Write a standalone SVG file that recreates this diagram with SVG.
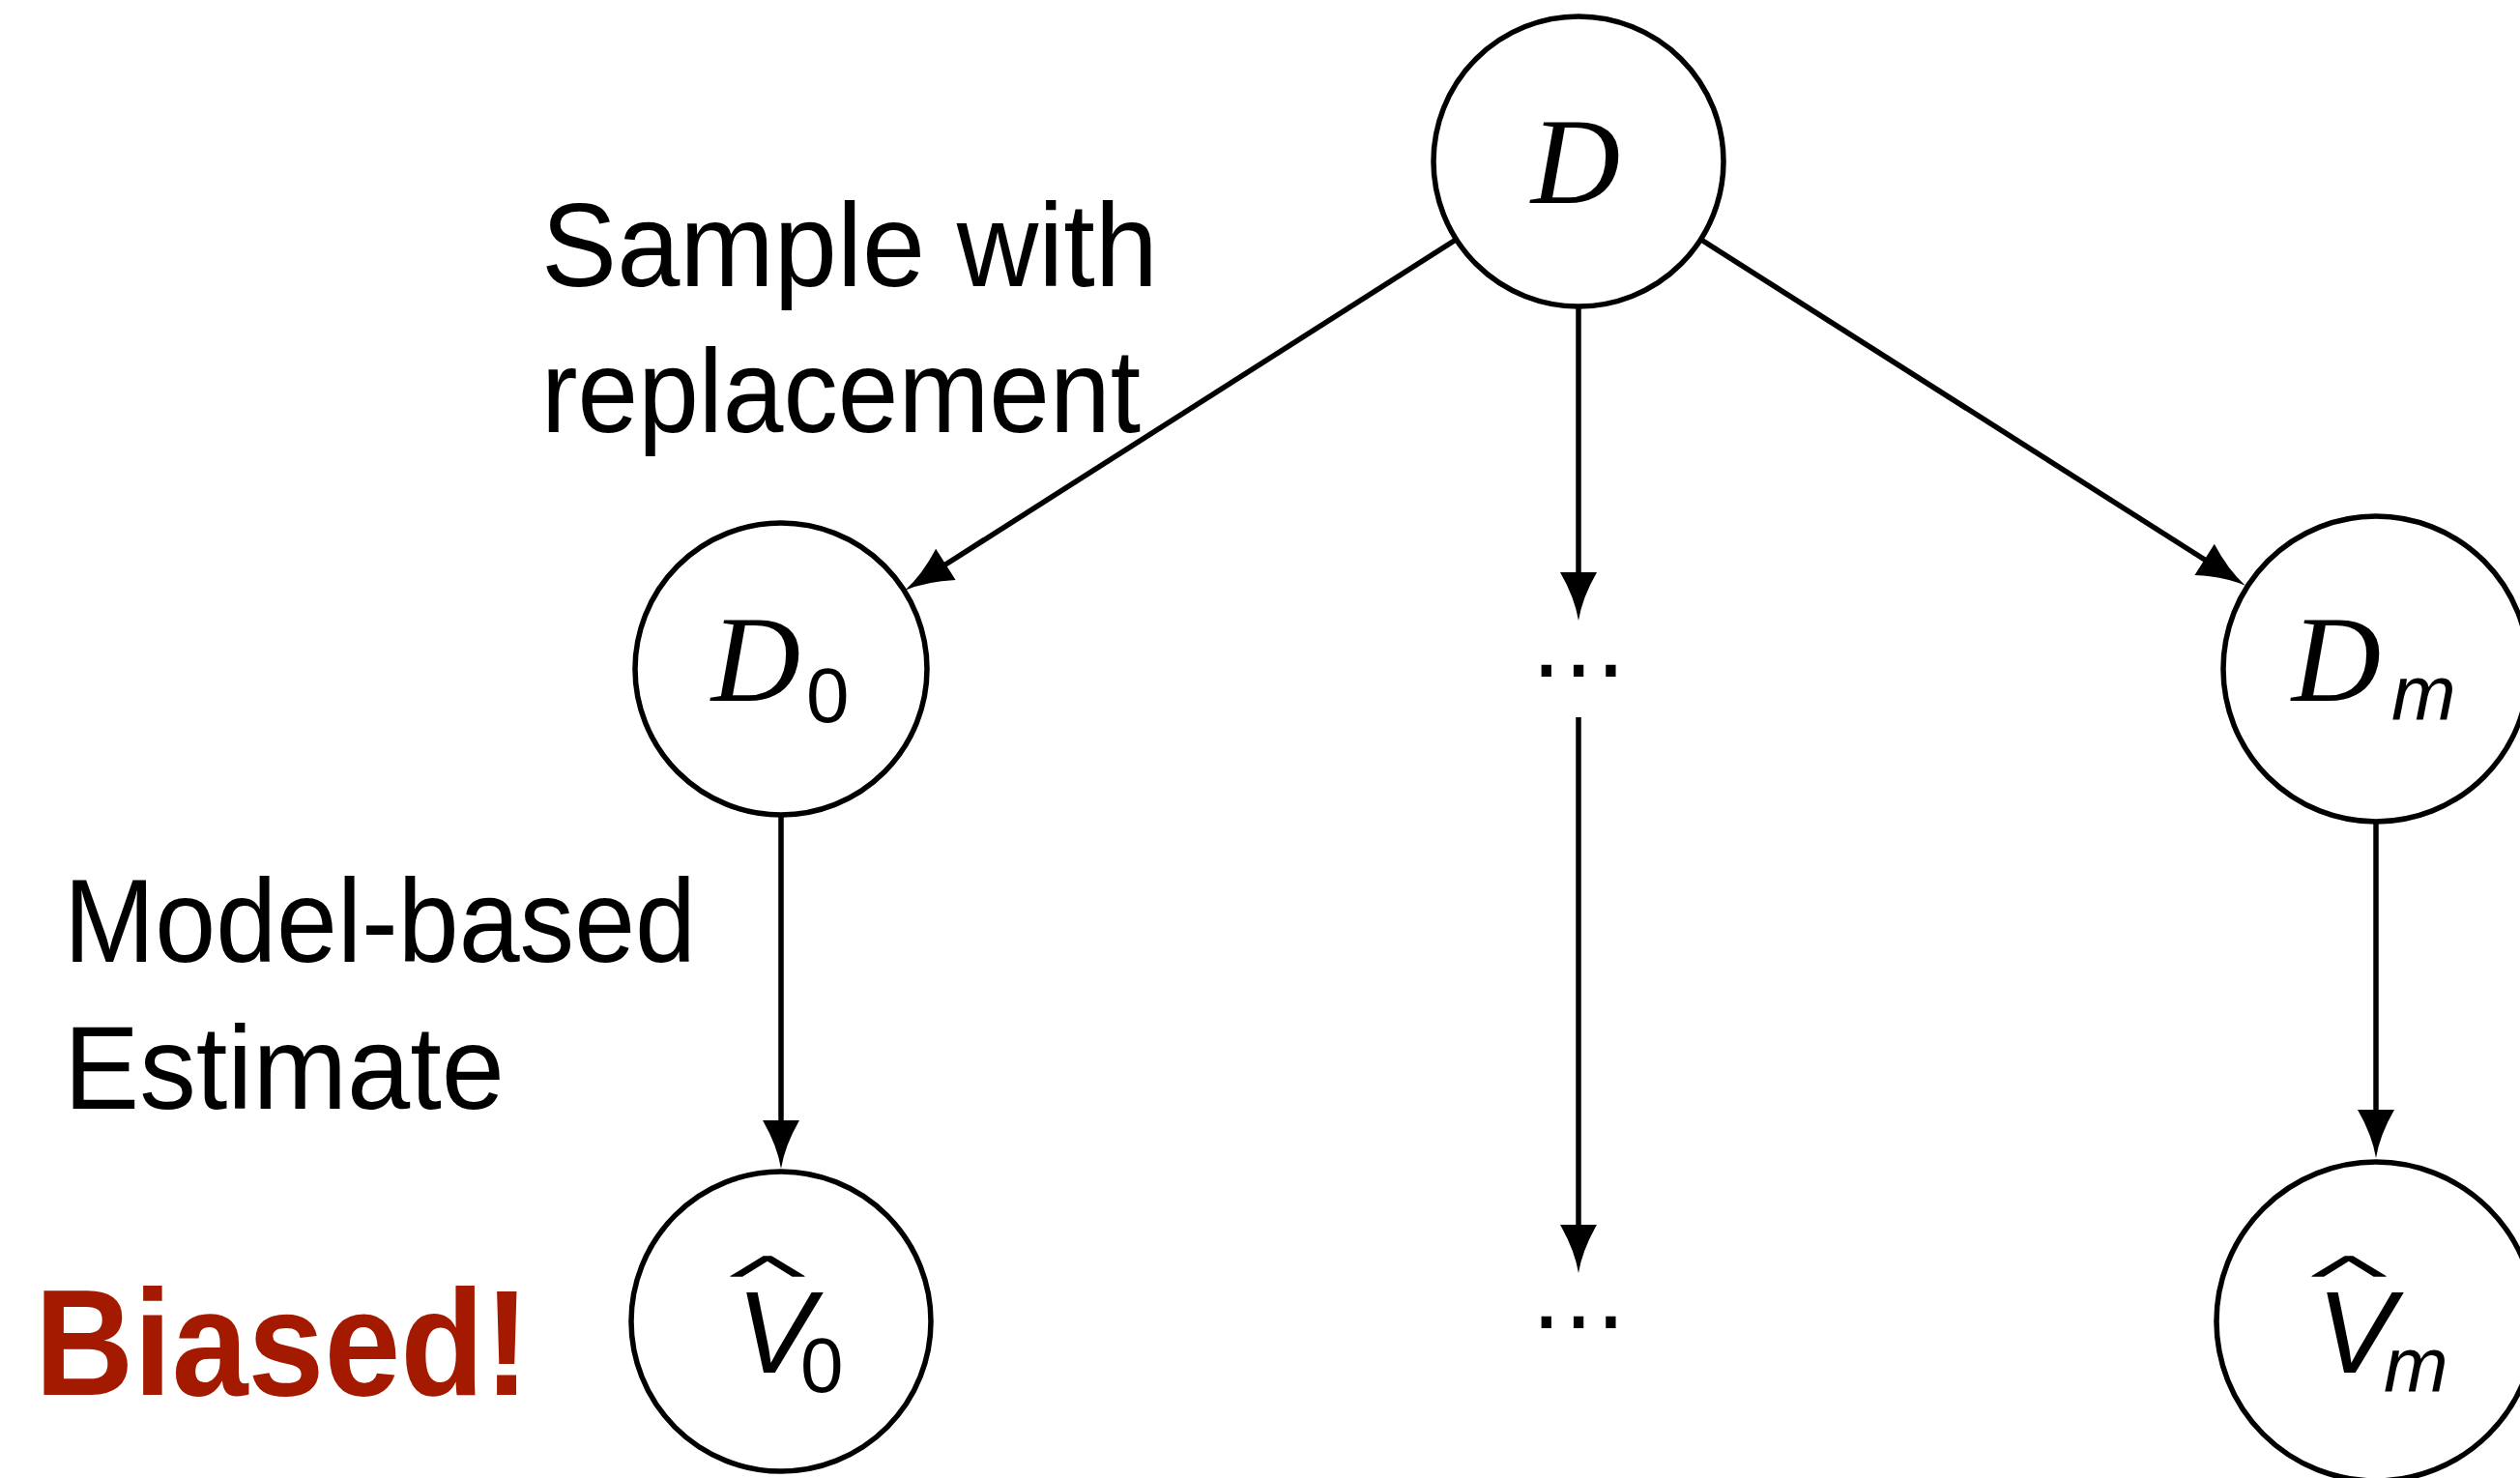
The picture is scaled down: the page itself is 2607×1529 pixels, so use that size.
<svg xmlns="http://www.w3.org/2000/svg" width="2607" height="1529" viewBox="0 0 2607 1529">
<style>
.node{fill:#fff;stroke:#000;stroke-width:5.5}
.edge{stroke:#000;stroke-width:5.5;fill:none}
.lbl{font-family:"Liberation Sans","DejaVu Sans",sans-serif;font-size:123px;fill:#000}
.cal{font-family:"Liberation Serif","DejaVu Serif",serif;font-style:italic;font-size:128px;fill:#000}
.sub{font-family:"Liberation Sans","DejaVu Sans",sans-serif;font-size:80px;fill:#000}
.it{font-family:"Liberation Sans","DejaVu Sans",sans-serif;font-style:italic;fill:#000}
.dots{font-family:"DejaVu Sans",sans-serif;font-size:100px;fill:#000}
.hat{font-family:Inter,"DejaVu Sans",sans-serif;font-weight:200;font-size:100px;fill:#000}
</style>
<defs>
<marker id="ah" markerUnits="userSpaceOnUse" markerWidth="60" markerHeight="40" refX="4" refY="20" orient="auto" overflow="visible">
<path d="M50,20 Q26,16 0,1 L0,39 Q26,24 50,20 Z" fill="#000"/>
</marker>
</defs>
<rect width="2607" height="1529" fill="#fff"/>
<g id="connectors">
<line class="edge" x1="1506" y1="248" x2="975" y2="586" marker-end="url(#ah)"/>
<line class="edge" x1="1760" y1="248" x2="2284" y2="581" marker-end="url(#ah)"/>
<line class="edge" x1="1633" y1="317" x2="1633" y2="596" marker-end="url(#ah)"/>
<line class="edge" x1="1633" y1="742" x2="1633" y2="1271" marker-end="url(#ah)"/>
<line class="edge" x1="808" y1="843" x2="808" y2="1163" marker-end="url(#ah)"/>
<line class="edge" x1="2458" y1="850" x2="2458" y2="1152" marker-end="url(#ah)"/>
</g>
<g id="node-D">
<circle class="node" cx="1633" cy="167" r="150"/>
<text class="cal" x="1630" y="210" text-anchor="middle">D</text>
</g>
<g id="node-D0">
<circle class="node" cx="808" cy="692" r="151"/>
<text class="cal" x="782" y="725" text-anchor="middle">D</text>
<text class="sub" x="834" y="747">0</text>
</g>
<g id="node-dots1">
<text class="dots" x="1633" y="725" text-anchor="middle">⋯</text>
</g>
<g id="node-Dm">
<circle class="node" cx="2458" cy="692" r="158"/>
<text class="cal" x="2417" y="725" text-anchor="middle">D</text>
<text class="it" x="2474" y="745" font-size="80">m</text>
</g>
<g id="node-V0">
<circle class="node" cx="808" cy="1367" r="155"/>
<text class="hat" transform="translate(794,1419) scale(2.73,1.57)" text-anchor="middle">ˆ</text>
<text class="it" x="802" y="1420" font-size="121" text-anchor="middle">V</text>
<text class="sub" x="828" y="1440">0</text>
</g>
<g id="node-dots2">
<text class="dots" x="1633" y="1399" text-anchor="middle">⋯</text>
</g>
<g id="node-Vm">
<circle class="node" cx="2458" cy="1367" r="165"/>
<text class="hat" transform="translate(2430,1419) scale(2.73,1.57)" text-anchor="middle">ˆ</text>
<text class="it" x="2437" y="1420" font-size="121" text-anchor="middle">V</text>
<text class="it" x="2466" y="1440" font-size="80">m</text>
</g>
<g id="labels">
<text class="lbl" x="560" y="296" textLength="638" lengthAdjust="spacingAndGlyphs">Sample with</text>
<text class="lbl" x="560" y="447" textLength="620" lengthAdjust="spacingAndGlyphs">replacement</text>
<text class="lbl" x="66" y="995" textLength="654" lengthAdjust="spacingAndGlyphs">Model-based</text>
<text class="lbl" x="66" y="1147" textLength="456" lengthAdjust="spacingAndGlyphs">Estimate</text>
<text x="36" y="1443" font-family="Liberation Sans,DejaVu Sans,sans-serif" font-weight="bold" font-size="156" fill="#a31a00" textLength="512" lengthAdjust="spacingAndGlyphs">Biased!</text>
</g>
</svg>
